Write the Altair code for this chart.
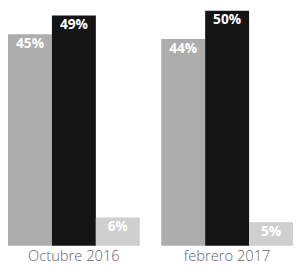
import altair as alt
import pandas as pd

periods = ["Octubre 2016", "febrero 2017"]
series = ["A", "B", "C"]
values_oct = [45, 49, 6]
values_feb = [44, 50, 5]
colors = ["#adadad", "#141414", "#cfcfcf"]

rows = []
for p, vals in zip(periods, [values_oct, values_feb]):
    for s, v in zip(series, vals):
        rows.append({"periodo": p, "serie": s, "valor": v, "label": f"{v}%"})
df = pd.DataFrame(rows)

base = alt.Chart(df).encode(
    x=alt.X(
        "periodo:N",
        sort=periods,
        scale=alt.Scale(paddingInner=0.14, paddingOuter=0),
        axis=alt.Axis(
            title=None, domain=False, ticks=False, labelAngle=0,
            labelFontSize=15, labelColor="#666666", labelFont="Open Sans",
            labelFontWeight=300, labelPadding=3,
        ),
    ),
    xOffset=alt.XOffset("serie:N", sort=series,
                        scale=alt.Scale(paddingInner=0, paddingOuter=0)),
)

bars = base.mark_bar().encode(
    y=alt.Y("valor:Q", scale=alt.Scale(domain=[0, 50]), axis=None),
    color=alt.Color("serie:N", scale=alt.Scale(domain=series, range=colors),
                    legend=None),
)

text = base.mark_text(
    baseline="top", dy=3, fontWeight="bold", fontSize=14,
    color="white", font="Open Sans",
).encode(
    y=alt.Y("valor:Q"),
    text="label:N",
)

chart = (bars + text).properties(
    width=291, height=240,
    autosize=alt.AutoSizeParams(type="none"),
    padding={"left": 0, "top": 0, "right": 0, "bottom": 24},
).configure_view(stroke=None)

chart.save("out.html", embed_options={"renderer": "svg", "actions": False})
